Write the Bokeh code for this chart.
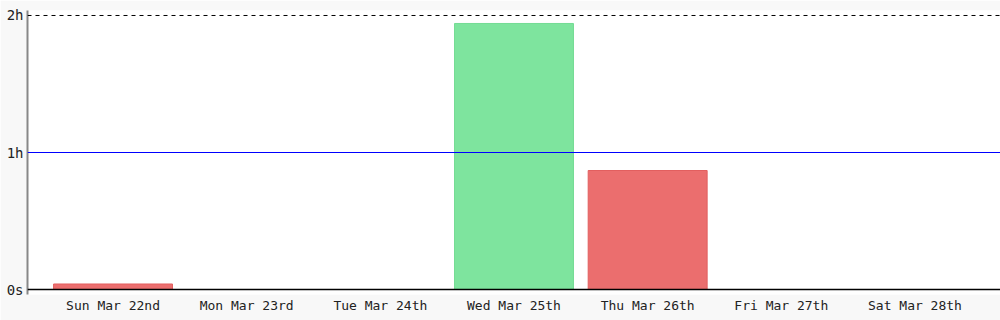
from bokeh.plotting import figure
from bokeh.models import FactorRange, Range1d, Span, FixedTicker, ColumnDataSource
from bokeh.embed import file_html
from bokeh.resources import INLINE

days = ["Sun Mar 22nd", "Mon Mar 23rd", "Tue Mar 24th", "Wed Mar 25th",
        "Thu Mar 26th", "Fri Mar 27th", "Sat Mar 28th"]
seconds = [145, 0, 0, 6990, 3127, 0, 0]
fills = ["#EB6E6E", "#EB6E6E", "#EB6E6E", "#7EE49E", "#EB6E6E", "#EB6E6E", "#EB6E6E"]
lines = ["#E25F5F", "#E25F5F", "#E25F5F", "#74DC94", "#E25F5F", "#E25F5F", "#E25F5F"]
tick_values = [0, 3600, 7200]
tick_labels = ["0s", "1h", "2h"]
goal = 3600

src = ColumnDataSource(dict(day=days, sec=seconds, fill=fills, line=lines))

p = figure(width=1000, height=320, output_backend="svg", toolbar_location=None,
           x_range=FactorRange(factors=days, range_padding=0.14, range_padding_units="absolute"),
           y_range=Range1d(-131, 7331))
p.min_border_left = 27
p.min_border_right = 0
p.min_border_top = 10
p.min_border_bottom = 26
p.border_fill_color = "#f8f8f8"
p.background_fill_color = "white"
p.outline_line_color = None
p.xgrid.visible = False
p.ygrid.visible = False

p.vbar(x="day", top="sec", bottom=0, width=0.89, source=src,
       fill_color="fill", line_color="line", line_width=1)

p.add_layout(Span(location=0, dimension="width", line_color="#000000", line_width=1.5))
p.add_layout(Span(location=goal, dimension="width", line_color="#0000FF", line_width=1))
p.add_layout(Span(location=tick_values[-1], dimension="width", line_color="#000000",
                  line_width=1, line_dash="4 4"))

p.yaxis.ticker = FixedTicker(ticks=tick_values)
p.yaxis.major_label_overrides = {v: l for v, l in zip(tick_values, tick_labels)}
p.yaxis.axis_line_color = "#888888"
p.yaxis.axis_line_width = 2
p.yaxis.major_tick_line_color = None
p.yaxis.major_tick_in = 0
p.yaxis.major_tick_out = 0
p.yaxis.minor_tick_line_color = None
p.yaxis.major_label_text_font = "DejaVu Sans Mono"
p.yaxis.major_label_text_font_size = "14px"
p.yaxis.major_label_text_color = "#222222"
p.yaxis.major_label_standoff = 4

p.xaxis.axis_line_color = None
p.xaxis.major_tick_line_color = None
p.xaxis.minor_tick_line_color = None
p.xaxis.major_tick_out = 0
p.xaxis.major_tick_in = 0
p.xaxis.major_label_text_font = "DejaVu Sans Mono"
p.xaxis.major_label_text_font_size = "13px"
p.xaxis.major_label_text_color = "#222222"
p.xaxis.major_label_standoff = 3

open("out.html", "w").write(file_html(p, INLINE))
